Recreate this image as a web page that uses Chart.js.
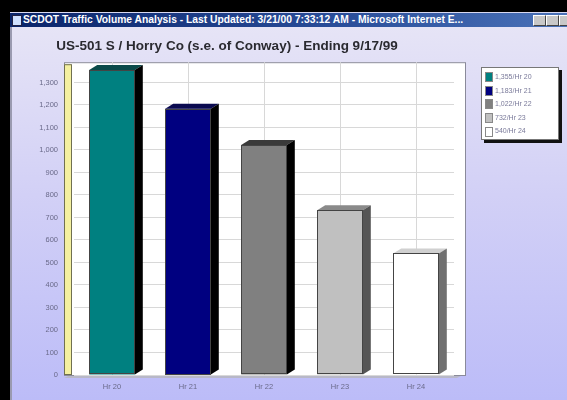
<!DOCTYPE html>
<html>
<head>
<meta charset="utf-8">
<script src="https://cdn.jsdelivr.net/npm/chart.js@4/dist/chart.umd.min.js"></script>
<style>
  html, body { margin:0; padding:0; background:#000; width:567px; height:400px; overflow:hidden; }
  #win { position:absolute; left:10px; top:12px; width:557px; height:388px; background:#d8d8f0; }
  #titlebar { position:absolute; left:0; top:1px; width:557px; height:14px;
    background:linear-gradient(to right,#0a246a,#2a4e9a 60%,#4a72b8); }
  #titlebar span { position:absolute; left:13px; top:0px; color:#fff; font:bold 10.3px "Liberation Sans", Arial, sans-serif; white-space:nowrap; line-height:14px; }
  #icon { position:absolute; left:2px; top:2px; width:8px; height:9px; background:#cfe0ff; border:1px solid #224; }
  .btn { position:absolute; top:2px; width:11px; height:9px; background:#c8c8c8; border:1px solid #fff; border-right-color:#444; border-bottom-color:#444; }
  #content { position:absolute; left:0; top:15px; width:557px; height:373px;
    background:linear-gradient(to bottom,#e6e4f6,#d2d0f6 45%,#bcbcf8); border-left:2px solid #9a9ab0; }
  #chartwrap { position:absolute; left:0; top:0; width:567px; height:400px; }
  #legend { position:absolute; left:481px; top:67px; width:72px; background:#fff; border:1px solid #777;
    box-shadow:3px 3px 0 #111; padding:2px 1px 1px 3px; font:7px "Liberation Sans", Arial, sans-serif; color:#7a7a9a; }
  #legend div { height:13.6px; line-height:13.6px; white-space:nowrap; }
  #legend i { display:inline-block; width:6px; height:8px; border:1px solid #888; vertical-align:middle; margin-right:2px; }
</style>
</head>
<body>
<div id="win">
  <div id="titlebar"><div id="icon"></div><span>SCDOT Traffic Volume Analysis - Last Updated: 3/21/00 7:33:12 AM - Microsoft Internet E...</span>
    <div class="btn" style="left:523px"></div><div class="btn" style="left:536px"></div><div class="btn" style="left:549px;width:8px"></div>
  </div>
  <div id="content"></div>
</div>
<div id="chartwrap"><canvas id="c" width="567" height="400"></canvas></div>
<div id="legend"></div>
<script>
const titleText = "US-501 S / Horry Co (s.e. of Conway) - Ending 9/17/99";
const categories = ["Hr 20", "Hr 21", "Hr 22", "Hr 23", "Hr 24"];
const volumes = [1355, 1183, 1022, 732, 540];
const frontColors = ["#008080", "#000080", "#808080", "#c0c0c0", "#ffffff"];
const topColors = ["#0a4a4a", "#0a0a50", "#3a3a3a", "#8a8a8a", "#d0d0d0"];
const sideColors = ["#000000", "#000000", "#000000", "#555555", "#707070"];
const yTicks = [0,100,200,300,400,500,600,700,800,900,1000,1100,1200,1300];

// legend from data
const lg = document.getElementById('legend');
categories.forEach((c, i) => {
  const d = document.createElement('div');
  d.innerHTML = '<i style="background:' + frontColors[i] + '"></i>' + volumes[i].toLocaleString('en-US') + '/' + c;
  lg.appendChild(d);
});

const DX = 8, DY = 5;
const panel3d = {
  id: 'panel3d',
  beforeDraw(chart) {
    const {ctx, chartArea: a} = chart;
    ctx.save();
    ctx.fillStyle = '#b8b8c8';
    ctx.beginPath();
    ctx.moveTo(a.left - 10, a.bottom + 3);
    ctx.lineTo(a.right + 3, a.bottom + 3);
    ctx.lineTo(a.right + 11, a.bottom - 1);
    ctx.lineTo(a.left - 2, a.bottom - 1);
    ctx.closePath();
    ctx.fill();
    ctx.fillStyle = '#ffffff';
    ctx.fillRect(a.left - 10, a.top, a.right - a.left + 21, a.bottom - a.top);
    ctx.strokeStyle = '#8a8a9a';
    ctx.lineWidth = 1;
    ctx.strokeRect(a.left - 10 + 0.5, a.top + 0.5, a.right - a.left + 21, a.bottom - a.top);
    ctx.restore();
  },
  afterDatasetsDraw(chart) {
    const {ctx, chartArea: a} = chart;
    ctx.save();
    ctx.fillStyle = '#f4f0a0';
    ctx.fillRect(a.left - 10, a.top + 2, 7, a.bottom - a.top - 2);
    ctx.strokeStyle = '#707050';
    ctx.strokeRect(a.left - 10 + 0.5, a.top + 2.5, 7, a.bottom - a.top - 3);
    const meta = chart.getDatasetMeta(0);
    meta.data.forEach((bar, i) => {
      const p = bar.getProps(['x', 'y', 'base', 'width'], true);
      const l = p.x - p.width / 2, r = p.x + p.width / 2;
      ctx.fillStyle = topColors[i];
      ctx.beginPath();
      ctx.moveTo(l, p.y); ctx.lineTo(l + DX, p.y - DY);
      ctx.lineTo(r + DX, p.y - DY); ctx.lineTo(r, p.y); ctx.closePath(); ctx.fill();
      ctx.fillStyle = sideColors[i];
      ctx.beginPath();
      ctx.moveTo(r, p.y); ctx.lineTo(r + DX, p.y - DY);
      ctx.lineTo(r + DX, p.base - DY); ctx.lineTo(r, p.base); ctx.closePath(); ctx.fill();
      ctx.strokeStyle = '#444';
      ctx.lineWidth = 1;
      ctx.strokeRect(Math.round(l) + 0.5, Math.round(p.y) + 0.5, Math.round(p.width) - 1, Math.round(p.base - p.y) - 1);
    });
    ctx.restore();
  }
};

new Chart(document.getElementById('c'), {
  type: 'bar',
  data: {
    labels: categories,
    datasets: [{
      data: volumes,
      backgroundColor: frontColors,
      borderWidth: 0,
      categoryPercentage: 0.6,
      barPercentage: 1.0
    }]
  },
  plugins: [panel3d],
  options: {
    responsive: false,
    animation: false,
    events: [],
    layout: { padding: { top: 35, right: 113, left: 0, bottom: 0 } },
    plugins: {
      legend: { display: false },
      tooltip: { enabled: false },
      title: {
        display: true, text: titleText, color: '#2a2a30',
        font: { family: '"Liberation Sans", Arial, sans-serif', size: 13.5, weight: 'bold' },
        padding: { top: 3, bottom: 8 }
      }
    },
    scales: {
      x: {
        grid: { display: true, offset: false, color: '#d8d8d8', drawTicks: false },
        border: { display: false },
        ticks: { color: '#6a6a8a', padding: 7, font: { family: '"Liberation Sans", Arial, sans-serif', size: 7.5 } },
        afterFit(s) { s.height = 25; }
      },
      y: {
        min: 0, max: 1390,
        afterBuildTicks(s) { s.ticks = yTicks.map(v => ({ value: v })); },
        grid: { color: '#d8d8d8', drawTicks: false },
        border: { display: false },
        ticks: {
          color: '#6a6a8a', padding: 16,
          font: { family: '"Liberation Sans", Arial, sans-serif', size: 7.5 },
          callback: v => v.toLocaleString('en-US')
        },
        afterFit(s) { s.width = 74; }
      }
    }
  }
});
</script>
</body>
</html>
